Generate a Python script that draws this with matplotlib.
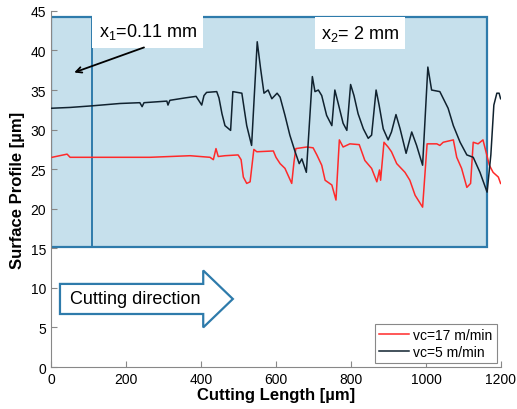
import matplotlib
matplotlib.use('Agg')
import matplotlib.pyplot as plt
from matplotlib.patches import Rectangle, Polygon

plt.rcParams['font.family'] = ['Liberation Sans', 'DejaVu Sans']
plt.rcParams['mathtext.default'] = 'regular'

# Profil bei vc=5 m/min (schwarz)
x_black = [2, 51, 109, 184, 237, 243, 248, 309, 312, 317, 357, 387, 402, 408, 415,
           442, 448, 456, 464, 479, 485, 509, 515, 522, 535, 550, 559, 568, 579,
           589, 603, 611, 624, 637, 651, 662, 669, 681, 697, 704, 713, 722, 735,
           749, 757, 766, 779, 789, 799, 808, 819, 833, 846, 855, 867, 875, 886,
           899, 908, 920, 931, 947, 962, 975, 991, 1005, 1015, 1037, 1059, 1073,
           1091, 1109, 1126, 1144, 1163, 1173, 1181, 1189, 1195, 1199]
y_black = [32.7, 32.8, 33.0, 33.3, 33.4, 32.9, 33.4, 33.6, 33.1, 33.7, 34.0, 34.2,
           33.1, 34.3, 34.7, 34.8, 34.0, 32.0, 30.5, 29.9, 34.8, 34.6, 32.7, 30.5,
           28.0, 41.1, 37.7, 34.6, 35.0, 33.9, 34.6, 34.1, 31.8, 29.3, 27.2, 25.7,
           26.3, 24.6, 36.7, 34.8, 35.0, 34.3, 31.8, 30.5, 35.0, 33.3, 30.8, 29.9,
           35.7, 34.3, 32.0, 30.1, 28.9, 29.3, 35.0, 33.1, 30.1, 28.7, 29.7, 31.9,
           30.1, 27.0, 29.7, 28.0, 25.5, 37.9, 35.0, 34.8, 32.7, 30.5, 28.4, 26.8,
           26.5, 24.6, 22.1, 26.8, 33.1, 34.6, 34.6, 33.9]

# Profil bei vc=17 m/min (rot)
x_red = [3, 43, 51, 264, 371, 424, 433, 440, 446, 464, 499, 507, 513, 522, 531,
         541, 549, 593, 600, 611, 624, 642, 648, 653, 682, 699, 709, 722, 731,
         749, 760, 769, 779, 797, 822, 837, 855, 869, 876, 879, 888, 899, 908,
         922, 944, 957, 971, 991, 1003, 1029, 1037, 1046, 1073, 1082, 1095, 1109,
         1119, 1126, 1139, 1152, 1160, 1169, 1179, 1193, 1199]
y_red = [26.5, 26.9, 26.5, 26.5, 26.7, 26.5, 26.2, 27.6, 26.6, 26.7, 26.8, 26.2,
         24.0, 23.2, 23.4, 27.5, 27.2, 27.3, 26.5, 25.7, 25.1, 23.2, 25.9, 27.6,
         27.8, 27.7, 26.8, 25.5, 23.6, 23.0, 21.1, 28.7, 27.8, 28.2, 28.1, 26.1,
         25.1, 23.4, 24.9, 23.6, 28.4, 27.8, 27.2, 25.7, 24.6, 23.6, 21.7, 20.2,
         28.2, 28.2, 28.0, 28.4, 28.7, 26.5, 25.1, 22.7, 23.2, 28.4, 28.2, 28.7,
         27.2, 25.5, 24.6, 24.0, 23.2]

fig = plt.figure(figsize=(5.17, 4.10), dpi=100)
ax = fig.add_axes([0.0986, 0.1024, 0.8704, 0.8686])

blau = '#2e7bab'
# Messbereich
ax.add_patch(Rectangle((0, 15.2), 1163, 29.0, facecolor='#c6e0ec',
                       edgecolor=blau, lw=1.6, zorder=0))
ax.plot([110, 110], [15.2, 44.2], color=blau, lw=1.4, zorder=1)

ax.plot(x_red, y_red, color='#ff2a2a', lw=1.1, label='vc=17 m/min', zorder=3)
ax.plot(x_black, y_black, color='#10222f', lw=1.1, label='vc=5 m/min', zorder=3)

# Beschriftungen
box = dict(facecolor='white', edgecolor='none', pad=5)
ax.text(258, 42.4, r'x$_1$=0.11 mm', fontsize=13, ha='center', va='center',
        bbox=dict(facecolor='white', edgecolor='none', boxstyle='square,pad=0.35'), zorder=5)
ax.text(824, 42.2, r'x$_2$= 2 mm', fontsize=13, ha='center', va='center',
        bbox=dict(facecolor='white', edgecolor='none', boxstyle='square,pad=0.35'), zorder=5)
ax.annotate('', xy=(55, 37.1), xytext=(255, 40.5),
            arrowprops=dict(arrowstyle='->', color='black', lw=1.3), zorder=6)

# Pfeil Schnittrichtung
pfeil = [(24, 10.5), (406, 10.5), (406, 12.2), (485, 8.6), (406, 5.0),
         (406, 6.7), (24, 6.7)]
ax.add_patch(Polygon(pfeil, closed=True, facecolor='white', edgecolor=blau,
                     lw=1.6, zorder=4))
ax.text(225, 8.6, 'Cutting direction', fontsize=13, ha='center', va='center', zorder=5)

ax.set_xlim(0, 1200)
ax.set_ylim(0, 45)
ax.set_xticks([0, 200, 400, 600, 800, 1000, 1200])
ax.set_yticks([0, 5, 10, 15, 20, 25, 30, 35, 40, 45])
ax.set_xlabel('Cutting Length [µm]', fontsize=12, fontweight='bold', labelpad=1)
ax.set_ylabel('Surface Profile [µm]', fontsize=12, fontweight='bold', labelpad=4)
ax.tick_params(direction='in', length=4, color='#888888', labelsize=10)
for s in ['top', 'right']:
    ax.spines[s].set_visible(False)
for s in ['left', 'bottom']:
    ax.spines[s].set_color('#888888')

leg = ax.legend(loc='lower right', fontsize=10, fancybox=False, framealpha=1,
                edgecolor='#888888', handlelength=2.2, borderaxespad=0.3,
                borderpad=0.3, labelspacing=0.2, handletextpad=0.3)
leg.get_frame().set_linewidth(0.8)

fig.savefig('out.png', dpi=100)
